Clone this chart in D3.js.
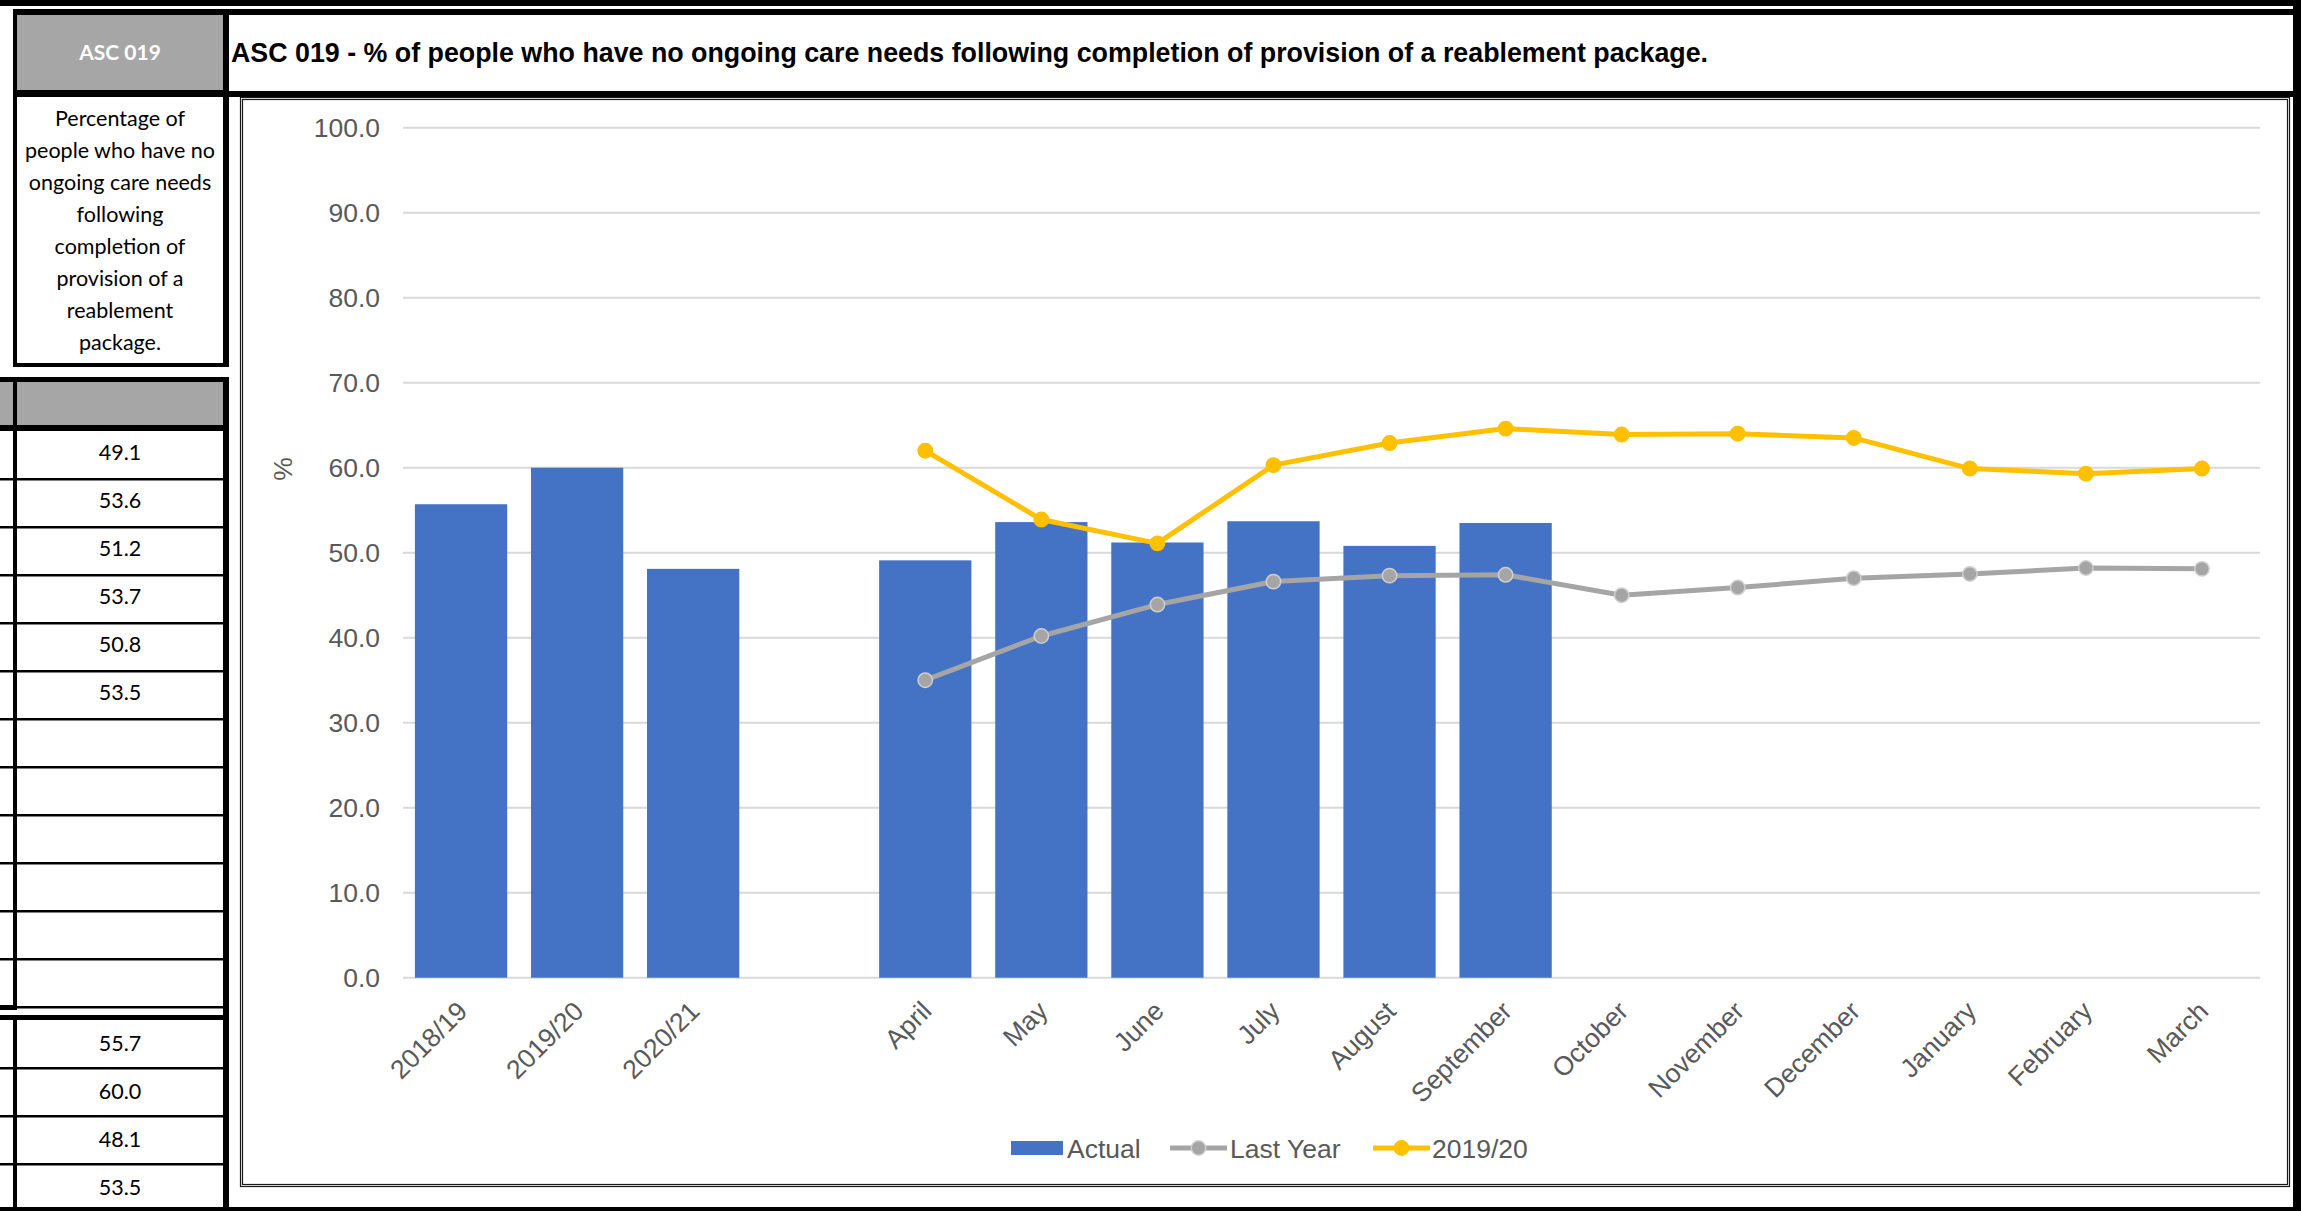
<!DOCTYPE html>
<html><head><meta charset="utf-8">
<script src="https://cdn.jsdelivr.net/npm/d3@7"></script>
<style>body{margin:0;background:#fff}svg{display:block}</style>
</head><body><svg id="c" width="2301" height="1211"></svg>
<script>
// ---------- data ----------
const categories = ["2018/19","2019/20","2020/21","","April","May","June","July","August","September","October","November","December","January","February","March"];
const actualValues = [55.7,60.0,48.1,null,49.1,53.6,51.2,53.7,50.8,53.5,null,null,null,null,null,null];
const lastYearValues = [null,null,null,null,35.0,40.2,43.9,46.6,47.3,47.4,45.0,45.9,47.0,47.5,48.2,48.1];
const values1920 = [null,null,null,null,62.0,53.9,51.1,60.3,62.9,64.6,63.9,64.0,63.5,59.9,59.3,59.9];
const yTickValues = [0,10,20,30,40,50,60,70,80,90,100];
const monthTableValues = ["49.1","53.6","51.2","53.7","50.8","53.5","","","","","",""];
const yearTableValues = ["55.7","60.0","48.1","53.5"];
const seriesNames = ["Actual","Last Year","2019/20"];
const codeLabel = "ASC 019";
const titleText = "ASC 019 - % of people who have no ongoing care needs following completion of provision of a reablement package.";
const descriptionLines = ["Percentage of","people who have no","ongoing care needs","following","completion of","provision of a","reablement","package."];
const yAxisTitle = "%";

// ---------- styles ----------
const BAR = "#4472c4", GREY = "#a5a5a5", GOLD = "#ffc000", GRID = "#d9d9d9", AXT = "#595959";
const CHART_FONT = "'Liberation Sans', Arial, sans-serif";
const CELL_FONT = "Lato, 'Open Sans', sans-serif";

const svg = d3.select("#c");
function rect(x, y, w, h, fill) {
  return svg.append("rect").attr("x", x).attr("y", y).attr("width", w).attr("height", h).attr("fill", fill);
}

rect(0, 0, 2301, 1211, "#fff");
// page bands
rect(0, 0, 2301, 6, "#000");
rect(2293, 0, 8, 1211, "#000");
rect(0, 1207, 2301, 4, "#000");

// header block
rect(13, 9, 2280, 88, "#000");
rect(17, 15, 206, 75, "#a6a6a6");
rect(229, 15, 2064, 76, "#fff");
svg.append("text").attr("x", 120).attr("y", 60).attr("text-anchor", "middle")
  .attr("font-family", CELL_FONT).attr("font-weight", "bold").attr("font-size", 21)
  .attr("fill", "#fff").text(codeLabel);
svg.append("text").attr("x", 231).attr("y", 62)
  .attr("font-family", CHART_FONT).attr("font-weight", "bold").attr("font-size", 26.8)
  .attr("fill", "#000").text(titleText);

// description cell
rect(13, 90, 216, 277, "#000");
rect(17, 97, 206, 266, "#fff");
svg.append("g").selectAll("text").data(descriptionLines).join("text")
  .attr("x", 120).attr("y", (d, i) => 126 + i * 32).attr("text-anchor", "middle")
  .attr("font-family", CELL_FONT).attr("font-size", 21.5).attr("fill", "#000").text(d => d);

// grey header row
rect(0, 377, 229, 54, "#000");
rect(0, 382, 13, 43, "#a6a6a6");
rect(17, 382, 206, 43, "#a6a6a6");

// month rows
const rowTop = 431, rowH = 48;
rect(13, 431, 4, 576, "#000");
rect(223, 431, 6, 776, "#000");
monthTableValues.forEach((v, i) => {
  const y0 = rowTop + i * rowH;
  if (i > 0) rect(0, y0 - 1, 223, 2.5, "#000");
  svg.append("text").attr("x", 120).attr("y", y0 + rowH / 2 - 3).attr("dy", "0.36em")
    .attr("text-anchor", "middle").attr("font-family", CELL_FONT).attr("font-size", 21.5)
    .attr("fill", "#000").text(v);
});
rect(0, 1006, 223, 2.5, "#000");
rect(0, 1005, 17, 5, "#000");
rect(0, 1015, 229, 5, "#000");
rect(13, 1020, 4, 187, "#000");
const row2Top = 1020;
yearTableValues.forEach((v, i) => {
  const y0 = row2Top + i * rowH;
  if (i > 0) rect(0, y0 - 1, 223, 2.5, "#000");
  svg.append("text").attr("x", 120).attr("y", y0 + rowH / 2 - 1).attr("dy", "0.36em")
    .attr("text-anchor", "middle").attr("font-family", CELL_FONT).attr("font-size", 21.5)
    .attr("fill", "#000").text(v);
});

// chart frame
svg.append("rect").attr("x", 240.5).attr("y", 97.5).attr("width", 2049).attr("height", 1089)
  .attr("fill", "#fff").attr("stroke", "#1a1a1a").attr("stroke-width", 1.2);
svg.append("rect").attr("x", 242.5).attr("y", 99.5).attr("width", 2045).attr("height", 1085)
  .attr("fill", "none").attr("stroke", "#1a1a1a").attr("stroke-width", 1.2);

// ---------- chart ----------
const plotL = 403, plotR = 2260, plotT = 127.7, plotB = 977.7;
const x = d3.scaleBand().domain(categories).range([plotL, plotR]).padding(0);
const y = d3.scaleLinear().domain([0, 100]).range([plotB, plotT]);
const bw = x.bandwidth();
const barW = bw * 0.795;
const cx = c => x(c) + bw / 2;

// gridlines
svg.append("g").selectAll("line").data(yTickValues).join("line")
  .attr("x1", plotL).attr("x2", plotR).attr("y1", d => y(d)).attr("y2", d => y(d))
  .attr("stroke", GRID).attr("stroke-width", 2);

// y axis
const yAxis = svg.append("g").attr("transform", `translate(${plotL},0)`)
  .call(d3.axisLeft(y).tickValues(yTickValues).tickFormat(d3.format(".1f")).tickSize(0).tickPadding(23));
yAxis.select(".domain").remove();
yAxis.selectAll("text").attr("font-family", CHART_FONT).attr("font-size", 26.5).attr("fill", AXT);

svg.append("text").attr("transform", "translate(292,469) rotate(-90)").attr("text-anchor", "middle")
  .attr("font-family", CHART_FONT).attr("font-size", 26.5).attr("fill", AXT).text(yAxisTitle);

// x axis
const xAxis = svg.append("g").attr("transform", `translate(0,${plotB})`)
  .call(d3.axisBottom(x).tickSize(0));
xAxis.select(".domain").remove();
xAxis.selectAll("text").attr("x", 0).attr("y", 0).attr("dy", 0)
  .attr("transform", "translate(8,35) rotate(-45)").attr("text-anchor", "end")
  .attr("font-family", CHART_FONT).attr("font-size", 26.5).attr("fill", AXT);

// bars
const barData = categories.map((c, i) => ({ c, v: actualValues[i] })).filter(d => d.v != null);
svg.append("g").selectAll("rect").data(barData).join("rect")
  .attr("x", d => cx(d.c) - barW / 2).attr("width", barW)
  .attr("y", d => y(d.v)).attr("height", d => y(0) - y(d.v))
  .attr("fill", BAR);

// lines
function drawLine(vals, color, markerStroke) {
  const pts = categories.map((c, i) => ({ c, v: vals[i] })).filter(d => d.v != null);
  const line = d3.line().x(d => cx(d.c)).y(d => y(d.v));
  svg.append("path").datum(pts).attr("d", line).attr("fill", "none")
    .attr("stroke", color).attr("stroke-width", 5).attr("stroke-linejoin", "round");
  svg.append("g").selectAll("circle").data(pts).join("circle")
    .attr("cx", d => cx(d.c)).attr("cy", d => y(d.v)).attr("r", 7.2)
    .attr("fill", color).attr("stroke", markerStroke).attr("stroke-width", 1.5);
}
drawLine(lastYearValues, GREY, "#cfcfcf");
drawLine(values1920, GOLD, GOLD);

// legend
const lg = svg.append("g").attr("font-family", CHART_FONT).attr("font-size", 26.5).attr("fill", AXT);
const legY = 1148;
lg.append("rect").attr("x", 1011).attr("y", legY - 7).attr("width", 52).attr("height", 14).attr("fill", BAR);
lg.append("text").attr("x", 1067).attr("y", legY + 9.5).text(seriesNames[0]);
[[1170, GREY, "#cfcfcf", 1230, seriesNames[1]], [1373, GOLD, GOLD, 1432, seriesNames[2]]].forEach(([lx, col, ms, tx, name]) => {
  lg.append("line").attr("x1", lx).attr("x2", lx + 57).attr("y1", legY).attr("y2", legY)
    .attr("stroke", col).attr("stroke-width", 5);
  lg.append("circle").attr("cx", lx + 28.5).attr("cy", legY).attr("r", 7.2)
    .attr("fill", col).attr("stroke", ms).attr("stroke-width", 1.5);
  lg.append("text").attr("x", tx).attr("y", legY + 9.5).text(name);
});
</script>
</body></html>
